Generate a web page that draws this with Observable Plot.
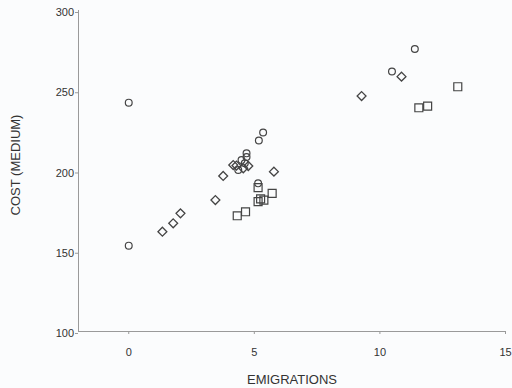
<!DOCTYPE html>
<html>
<head>
<meta charset="utf-8">
<script src="https://cdn.jsdelivr.net/npm/d3@7"></script>
<script src="https://cdn.jsdelivr.net/npm/@observablehq/plot@0.6"></script>
<style>
  html, body { margin: 0; padding: 0; background: #fbfcfd; }
  #chart svg { display: block; background: #fbfcfd; }
</style>
</head>
<body>
<div id="chart"></div>
<script>
// Circles
const circleX = [0, 0, 11.39, 10.48, 5.35, 5.18, 4.69, 4.69, 4.49, 4.62, 4.36, 5.15];
const circleY = [242.6, 153.5, 276, 262, 224, 219, 211.0, 208.7, 206.9, 204.8, 200.6, 192.3];
// Diamonds
const diamondX = [9.27, 10.86, 5.78, 3.76, 3.45, 2.06, 1.77, 1.34, 4.16, 4.29, 4.56, 4.76];
const diamondY = [246.7, 258.8, 199.6, 196.9, 181.9, 173.6, 167.4, 162.2, 203.7, 203.4, 201.7, 203.1];
// Squares
const squareX = [13.1, 11.55, 11.9, 5.15, 5.71, 5.25, 5.15, 5.38, 4.32, 4.65];
const squareY = [252.5, 239.4, 240.4, 189.6, 186.1, 182.6, 180.9, 181.9, 172.1, 174.6];

const xTicks = [0, 5, 10, 15];
const yTicks = [100, 150, 200, 250, 300];
const xTitle = "EMIGRATIONS";
const yTitle = "COST (MEDIUM)";

const toRows = (xs, ys) => xs.map((x, i) => ({x, y: ys[i]}));
const circles = toRows(circleX, circleY);
const diamonds = toRows(diamondX, diamondY);
const squares = toRows(squareX, squareY);

const ink = "#444";
const axisColor = "#9a9a9a";
const font = "'Liberation Sans', Arial, sans-serif";

const chart = Plot.plot({
  width: 512,
  height: 388,
  marginLeft: 78,
  marginRight: 7,
  marginTop: 10,
  marginBottom: 57,
  style: {fontFamily: font, background: "#fbfcfd", color: "#333"},
  x: {domain: [-2, 15]},
  y: {domain: [100, 300]},
  marks: [
    Plot.ruleX([-2], {stroke: axisColor, strokeWidth: 1}),
    Plot.ruleY([100], {stroke: axisColor, strokeWidth: 1}),
    Plot.axisX({ticks: xTicks, tickSize: 3, tickPadding: 14, label: null, stroke: axisColor,
      fill: "#333", fontSize: 11, style: "letter-spacing:1.5px"}),
    Plot.axisY({ticks: yTicks, tickSize: 3, tickPadding: 1.5, label: null, stroke: axisColor,
      fill: "#333", fontSize: 11, dy: 2, style: "letter-spacing:1.5px"}),
    Plot.text([yTitle], {frameAnchor: "left", text: d => d, rotate: -90, dx: -63, dy: -6,
      textAnchor: "middle", fontSize: 13, fill: "#333", style: "letter-spacing:0.5px"}),
    Plot.text([xTitle], {frameAnchor: "bottom", text: d => d, dy: 52,
      textAnchor: "middle", fontSize: 13, fill: "#333", style: "letter-spacing:0.8px"}),
    Plot.dot(circles, {x: "x", y: "y", symbol: "circle", r: 3.4, stroke: ink, strokeWidth: 1.2, fill: "none"}),
    Plot.dot(diamonds, {x: "x", y: "y", symbol: "diamond2", r: 4, stroke: ink, strokeWidth: 1.3, fill: "none"}),
    Plot.dot(squares, {x: "x", y: "y", symbol: "square", r: 4.5, stroke: ink, strokeWidth: 1.2, fill: "none"})
  ]
});
document.getElementById("chart").appendChild(chart);
</script>
</body>
</html>
